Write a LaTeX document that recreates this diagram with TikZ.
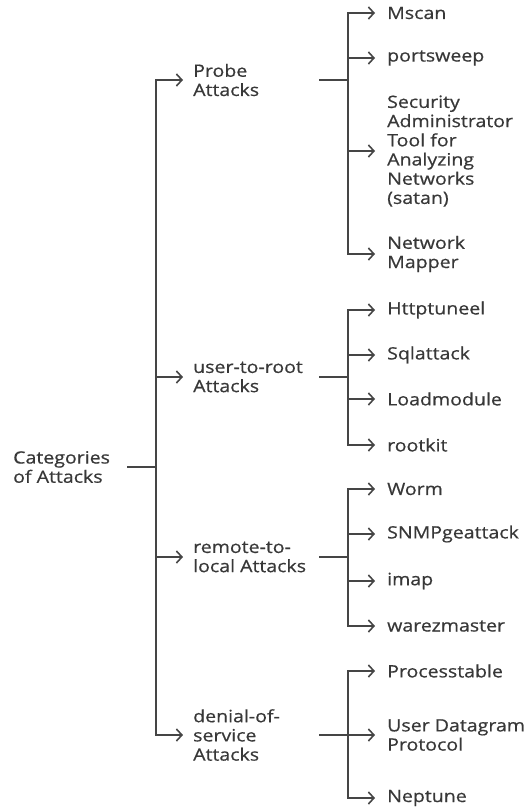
\documentclass[tikz,border=0pt]{standalone}
\usepackage{fontspec}
\setmainfont[FakeStretch=1.15,FakeBold=0.6]{Open Sans}
\usetikzlibrary{arrows.meta}
\definecolor{ink}{HTML}{383838}
\definecolor{wire}{HTML}{454545}
\begin{document}
\begin{tikzpicture}[x=1pt,y=-1pt,
  line/.style={draw=wire,line width=1.6pt},
  conn/.style={line,-{Straight Barb[length=5.5pt,width=12pt,line width=1.6pt]}},
  label/.style={anchor=west,align=left,text=ink,inner ysep=0pt,
    font=\fontsize{17}{19.2}\selectfont},
  cat/.style={label,inner xsep=10pt},
  leaf/.style={label,inner xsep=12pt}]
\useasboundingbox (0,0) rectangle (529,808);

% root
\node[label,inner xsep=0pt] (root) at (13,467) {Categories\\of Attacks};
\coordinate (rS) at (127,467);
\coordinate (rB) at (156,467);
\draw[line] (rS) -- (rB);

% categories
\node[cat] (probe) at (183,80)  {Probe\\Attacks};
\node[cat] (u2r)   at (183,377) {user-to-root\\Attacks};
\node[cat] (r2l)   at (183,557) {remote-to-\\local Attacks};
\node[cat] (dos)   at (183,735) {denial-of-\\service\\Attacks};
\foreach \c in {probe,u2r,r2l,dos} \draw[conn] (rB) |- (\c.west);

% sub-bus stubs
\coordinate (pS) at (319,80);  \coordinate (pB) at (348,80);
\coordinate (uS) at (319,377); \coordinate (uB) at (348,377);
\coordinate (lS) at (319,557); \coordinate (lB) at (348,557);
\coordinate (dS) at (319,735); \coordinate (dB) at (348,735);
\draw[line] (pS) -- (pB);
\draw[line] (uS) -- (uB);
\draw[line] (lS) -- (lB);
\draw[line] (dS) -- (dB);

% probe leaves
\node[leaf] (p1) at (375,13)  {Mscan};
\node[leaf] (p2) at (375,58)  {portsweep};
\node[leaf] (p3) at (375,151) {Security\\Administrator\\Tool for\\Analyzing\\Networks\\(satan)};
\node[leaf] (p4) at (375,254) {Network\\Mapper};
\foreach \n in {p1,p2,p3,p4} \draw[conn] (pB) |- (\n.west);

% user-to-root leaves
\node[leaf] (u1) at (375,310) {Httptuneel};
\node[leaf] (u2) at (375,355) {Sqlattack};
\node[leaf] (u3) at (375,399) {Loadmodule};
\node[leaf] (u4) at (375,445) {rootkit};
\foreach \n in {u1,u2,u3,u4} \draw[conn] (uB) |- (\n.west);

% remote-to-local leaves
\node[leaf] (l1) at (375,489) {Worm};
\node[leaf] (l2) at (375,534) {SNMPgeattack};
\node[leaf] (l3) at (375,581) {imap};
\node[leaf] (l4) at (375,626) {warezmaster};
\foreach \n in {l1,l2,l3,l4} \draw[conn] (lB) |- (\n.west);

% denial-of-service leaves
\node[leaf] (d1) at (375,671) {Processtable};
\node[leaf] (d2) at (375,735) {User Datagram\\Protocol};
\node[leaf] (d3) at (375,798) {Neptune};
\foreach \n in {d1,d2,d3} \draw[conn] (dB) |- (\n.west);
\end{tikzpicture}
\end{document}
